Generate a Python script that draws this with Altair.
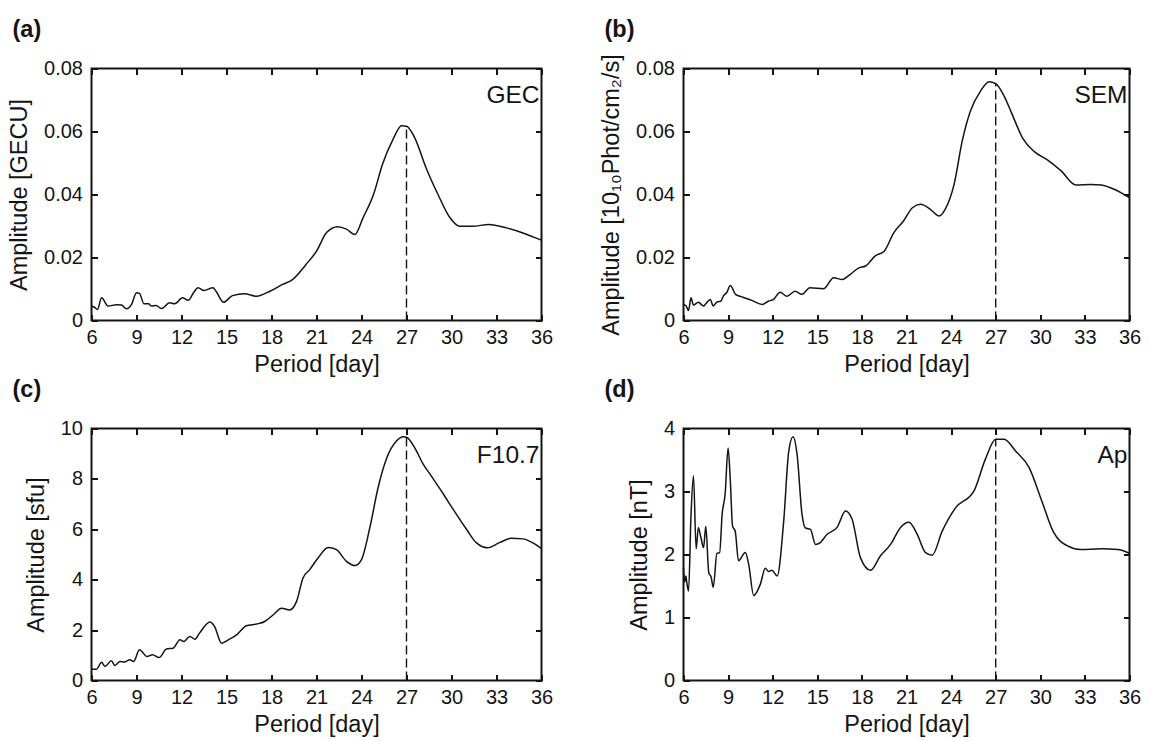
import altair as alt
import pandas as pd

# Period axis ticks shared by all four panels
PERIOD_TICKS = [6, 9, 12, 15, 18, 21, 24, 27, 30, 33, 36]

# (a) GEC amplitude spectrum
gec_day = [6.0, 6.2, 6.4, 6.67, 7.1, 7.67, 8.0, 8.33, 8.67, 9.0, 9.2, 9.5, 9.8, 10.0, 10.3,
           10.67, 11.2, 11.55, 12.07, 12.45, 12.8, 13.1, 13.5, 14.1, 14.3, 14.8, 15.4, 16.2,
           17.0, 17.9, 18.7, 19.4, 20.3, 21.0, 21.67, 22.4, 23.0, 23.55, 24.1, 24.8, 25.4,
           26.1, 26.67, 27.0, 27.55, 28.3, 29.1, 29.9, 30.55, 31.4, 32.5, 33.67, 34.76, 36.0]
gec_amp = [0.0046, 0.0042, 0.0035, 0.0072, 0.0046, 0.005, 0.0049, 0.0037, 0.0051, 0.0088,
           0.0086, 0.0053, 0.0053, 0.0046, 0.0048, 0.0038, 0.0056, 0.0053, 0.0072, 0.0064,
           0.0088, 0.0104, 0.0095, 0.0104, 0.0093, 0.0058, 0.0079, 0.0085, 0.0077, 0.0093,
           0.0114, 0.013, 0.0178, 0.022, 0.0279, 0.0298, 0.029, 0.0273, 0.0326, 0.04,
           0.0496, 0.0575, 0.0618, 0.0617, 0.058, 0.0485, 0.04, 0.0326, 0.0299, 0.0299,
           0.0305, 0.0294, 0.0278, 0.0255]
gec_peak = 0.0617

# (b) SEM amplitude spectrum
sem_day = [6.0, 6.18, 6.34, 6.5, 6.67, 7.0, 7.35, 7.5, 7.8, 8.0, 8.25, 8.5, 8.7, 8.9, 9.15,
           9.5, 10.0, 10.6, 11.3, 11.7, 12.06, 12.5, 12.96, 13.5, 13.97, 14.5, 15.43, 16.1,
           16.67, 17.2, 17.8, 18.24, 18.9, 19.5, 20.15, 20.8, 21.4, 21.95, 22.6, 23.2, 23.6,
           24.2, 24.75, 25.3, 25.99, 26.55, 27.0, 27.56, 28.1, 28.8, 29.6, 30.5, 31.4, 32.4,
           33.4, 34.1, 35.0, 36.0]
sem_amp = [0.0051, 0.0046, 0.0032, 0.0072, 0.0049, 0.0058, 0.0046, 0.0053, 0.0067, 0.0046,
           0.0059, 0.0061, 0.0079, 0.0088, 0.0111, 0.0083, 0.0074, 0.0064, 0.0051, 0.0061,
           0.0067, 0.009, 0.0077, 0.0093, 0.0083, 0.0104, 0.0101, 0.0136, 0.013, 0.0146,
           0.0167, 0.0173, 0.0205, 0.022, 0.0279, 0.0316, 0.0358, 0.0369, 0.0353, 0.0332,
           0.0353, 0.0432, 0.057, 0.0665, 0.0729, 0.0758, 0.0752, 0.0713, 0.0655, 0.058,
           0.0536, 0.0509, 0.0475, 0.043, 0.0432, 0.043, 0.0416, 0.039]
sem_peak = 0.0752

# (c) F10.7 amplitude spectrum
f107_day = [6.0, 6.33, 6.67, 6.9, 7.33, 7.55, 7.9, 8.2, 8.55, 8.8, 9.2, 9.7, 10.07, 10.5,
            11.0, 11.44, 11.9, 12.15, 12.55, 12.9, 13.2, 13.9, 14.2, 14.67, 15.2, 15.67,
            16.33, 17.0, 17.55, 18.1, 18.67, 19.2, 19.67, 20.1, 20.55, 21.1, 21.78, 22.33,
            23.0, 23.55, 24.0, 24.55, 25.1, 25.67, 26.33, 26.78, 27.0, 27.55, 28.1, 28.67,
            29.4, 30.1, 31.0, 31.65, 32.4, 33.2, 33.97, 34.75, 35.4, 36.0]
f107_amp = [0.46, 0.45, 0.72, 0.56, 0.78, 0.6, 0.75, 0.73, 0.82, 0.75, 1.22, 0.95, 1.02,
            0.91, 1.25, 1.28, 1.62, 1.55, 1.75, 1.64, 1.88, 2.32, 2.15, 1.48, 1.64, 1.81,
            2.17, 2.24, 2.34, 2.6, 2.87, 2.8, 3.14, 4.07, 4.4, 4.86, 5.28, 5.19, 4.73, 4.56,
            4.8, 6.05, 7.64, 8.81, 9.5, 9.67, 9.65, 9.23, 8.6, 8.1, 7.45, 6.8, 6.0, 5.47,
            5.27, 5.47, 5.64, 5.62, 5.47, 5.23]
f107_peak = 9.65

# (d) Ap amplitude spectrum
ap_day = [6.0, 6.07, 6.16, 6.22, 6.34, 6.5, 6.67, 6.85, 7.0, 7.17, 7.35, 7.5, 7.7, 7.86,
          8.0, 8.25, 8.43, 8.6, 8.8, 9.0, 9.15, 9.3, 9.48, 9.7, 10.16, 10.38, 10.72, 11.17,
          11.5, 11.73, 11.95, 12.3, 12.74, 13.08, 13.37, 13.64, 13.97, 14.2, 14.54, 14.88,
          15.2, 15.66, 16.33, 16.9, 17.34, 17.9, 18.58, 19.25, 19.93, 20.6, 21.16, 21.72,
          22.28, 22.73, 23.4, 24.3, 25.54, 26.3, 27.0, 27.56, 28.35, 29.25, 30.1, 30.9,
          31.8, 32.7, 34.1, 35.2, 36.0]
ap_amp = [1.79, 1.56, 1.66, 1.56, 1.42, 2.59, 3.25, 2.09, 2.43, 2.27, 2.11, 2.45, 1.71,
          1.64, 1.48, 2.02, 2.03, 2.64, 2.96, 3.69, 3.17, 2.45, 2.37, 1.9, 2.03, 1.85, 1.35,
          1.53, 1.78, 1.73, 1.75, 1.66, 2.53, 3.64, 3.87, 3.59, 2.64, 2.42, 2.4, 2.16, 2.19,
          2.32, 2.43, 2.69, 2.56, 1.95, 1.75, 1.98, 2.16, 2.43, 2.51, 2.32, 2.03, 1.99, 2.37,
          2.74, 3.01, 3.51, 3.83, 3.83, 3.64, 3.38, 2.85, 2.35, 2.14, 2.08, 2.09, 2.08, 2.02]
ap_peak = 3.83

FONT = "Liberation Sans"
INK = "#141414"
TICK_PX = 6  # length of the inward ticks
X_MIN, X_MAX = 6, 36


def panel(day, amp, peak_amp, y_max, y_ticks, y_title, name, letter, width, height):
    x_scale = alt.Scale(domain=[X_MIN, X_MAX], nice=False, zero=False)
    y_scale = alt.Scale(domain=[0, y_max], nice=False, zero=True)

    # bottom / left axes carry the labels; the axis line is pulled inside the
    # box by the tick length so that the ticks point inward
    curve = alt.Chart(pd.DataFrame({"day": day, "amp": amp})).mark_line(
        color=INK, strokeWidth=1.5, interpolate="monotone"
    ).encode(
        x=alt.X("day:Q", scale=x_scale,
                axis=alt.Axis(orient="bottom", values=PERIOD_TICKS, title="Period [day]",
                              labelFlush=False, labelOverlap=False)),
        y=alt.Y("amp:Q", scale=y_scale,
                axis=alt.Axis(orient="left", values=y_ticks, title=y_title, format="~r",
                              labelOverlap=False)),
    )

    # dashed marker at the 27-day solar rotation period; its layer carries the
    # unlabelled top / right axes that close the box with inward ticks
    marker = alt.Chart(pd.DataFrame({"day": [27], "amp": [0], "amp2": [peak_amp]})).mark_rule(
        color=INK, strokeWidth=1.4, strokeDash=[9, 4]
    ).encode(
        x=alt.X("day:Q", scale=x_scale,
                axis=alt.Axis(orient="top", values=PERIOD_TICKS, labels=False, title=None)),
        y=alt.Y("amp:Q", scale=y_scale,
                axis=alt.Axis(orient="right", values=y_ticks, labels=False, title=None)),
        y2="amp2:Q",
    )

    name_txt = alt.Chart(pd.DataFrame({"t": [name]})).mark_text(
        align="right", baseline="alphabetic", font=FONT, fontSize=24.5, color=INK
    ).encode(text="t:N", x=alt.value(width - 2), y=alt.value(34))
    letter_txt = alt.Chart(pd.DataFrame({"t": [letter]})).mark_text(
        align="left", baseline="middle", font=FONT, fontSize=23.5, fontWeight="bold", color=INK
    ).encode(text="t:N", x=alt.value(-79), y=alt.value(-39))

    return (
        alt.layer(curve, marker, name_txt, letter_txt)
        .resolve_axis(x="independent", y="independent")
        .properties(width=width, height=height)
    )


pa = panel(gec_day, gec_amp, gec_peak, 0.08, [0, 0.02, 0.04, 0.06, 0.08],
           "Amplitude [GECU]", "GEC", "(a)", 450, 252)
pb = panel(sem_day, sem_amp, sem_peak, 0.08, [0, 0.02, 0.04, 0.06, 0.08],
           "Amplitude [10\u2081\u2080Phot/cm\u2082/s]", "SEM", "(b)", 446, 252)
pc = panel(f107_day, f107_amp, f107_peak, 10, [0, 2, 4, 6, 8, 10],
           "Amplitude [sfu]", "F10.7", "(c)", 450, 252)
pd_ = panel(ap_day, ap_amp, ap_peak, 4, [0, 1, 2, 3, 4],
            "Amplitude [nT]", "Ap", "(d)", 446, 252)

chart = (
    alt.concat(pa, pb, pc, pd_, columns=2, spacing={"row": 108, "column": 142}, bounds="flush")
    .properties(padding={"left": 6.5, "top": 16.5, "right": 5, "bottom": 5}, background="white")
    .configure_view(stroke=INK, strokeWidth=2)
    .configure_axis(
        labelFont=FONT, labelFontSize=20, labelColor=INK,
        titleFont=FONT, titleFontSize=23.5, titleFontWeight="normal", titleColor=INK,
        domain=False, grid=False,
        ticks=True, tickSize=TICK_PX, tickWidth=2, tickColor=INK, offset=-TICK_PX,
    )
    .configure_axisX(labelPadding=7, titlePadding=5)
    .configure_axisY(labelPadding=9, titlePadding=12)
)

chart.save("out.html", embed_options={"renderer": "svg", "actions": False})
